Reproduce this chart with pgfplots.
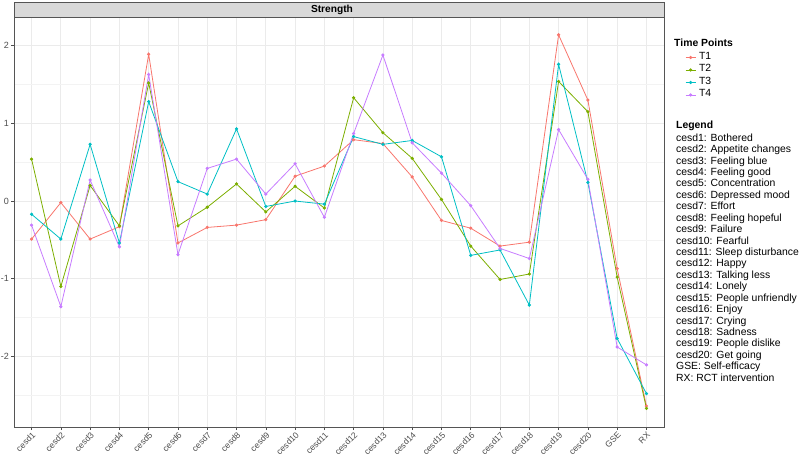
\documentclass[border=0pt]{standalone}
\usepackage{pgfplots}
\pgfplotsset{compat=1.18}
\usepackage{pgfplotstable}
\usepackage{fontspec}
\setmainfont{Liberation Sans}
\definecolor{cA}{HTML}{F8766D}
\definecolor{cB}{HTML}{7CAE00}
\definecolor{cC}{HTML}{00BFC4}
\definecolor{cD}{HTML}{C77CFF}
\definecolor{gridc}{HTML}{EBEBEB}
\definecolor{gridm}{HTML}{F3F3F3}
\definecolor{txtc}{HTML}{4D4D4D}
\definecolor{bordc}{HTML}{555555}
\definecolor{stripc}{HTML}{D9D9D9}

\pgfplotstableread{
x T1 T2 T3 T4
0 -0.49 0.54 -0.17 -0.31
1 -0.02 -1.10 -0.49 -1.36
2 -0.49 0.20 0.73 0.27
3 -0.33 -0.32 -0.54 -0.59
4 1.89 1.52 1.28 1.63
5 -0.54 -0.32 0.25 -0.69
6 -0.34 -0.08 0.09 0.42
7 -0.31 0.22 0.93 0.54
8 -0.24 -0.14 -0.07 0.09
9 0.32 0.19 0.00 0.48
10 0.45 -0.09 -0.04 -0.21
11 0.79 1.33 0.83 0.87
12 0.74 0.88 0.73 1.88
13 0.31 0.55 0.78 0.75
14 -0.25 0.02 0.57 0.36
15 -0.35 -0.58 -0.70 -0.06
16 -0.58 -1.01 -0.63 -0.61
17 -0.53 -0.94 -1.34 -0.74
18 2.14 1.54 1.76 0.92
19 1.30 1.15 0.24 0.28
20 -0.87 -0.98 -1.77 -1.88
21 -2.64 -2.67 -2.48 -2.11
}\datatable

\begin{document}
\begin{tikzpicture}[x=1pt,y=1pt]
\useasboundingbox (0,0) rectangle (800,456);
\begin{axis}[name=ax, at={(14pt,29pt)}, anchor=south west,
  scale only axis, width=650pt, height=410pt,
  xmin=-0.6, xmax=21.6, ymin=-2.91, ymax=2.37,
  xtick={0,...,21},
  xticklabels={cesd1,cesd2,cesd3,cesd4,cesd5,cesd6,cesd7,cesd8,cesd9,cesd10,cesd11,cesd12,cesd13,cesd14,cesd15,cesd16,cesd17,cesd18,cesd19,cesd20,GSE,RX},
  ytick={-2,-1,0,1,2},
  yticklabels={-2,-1,0,1,2},
  minor ytick={-2.5,-1.5,-0.5,0.5,1.5},
  grid=both,
  major grid style={gridc, line width=0.8pt},
  minor grid style={gridm, line width=0.5pt},
  axis line style={bordc, line width=0.7pt},
  xtick pos=bottom, ytick pos=left,
  tick align=outside, major tick length=3pt, minor tick length=0pt,
  tick style={txtc, line width=0.6pt},
  xticklabel style={rotate=45, anchor=north east, font=\fontsize{8.6}{9}\selectfont, text=txtc, inner sep=0.8pt},
  yticklabel style={font=\fontsize{9}{10}\selectfont, text=txtc, inner sep=2pt},
  /pgf/number format/assume math mode=true,
  every axis plot/.append style={line width=0.8pt, mark=*, mark size=1.2pt},
  legend style={at={(1,1)}, anchor=north west, xshift=21pt, yshift=-34pt,
    draw=none, fill=none, font=\fontsize{10.4}{12}\selectfont,
    row sep=0pt, column sep=3pt, inner sep=0pt,
    nodes={inner sep=0pt, text height=8pt, text depth=4.5pt}},
  legend cell align=left,
  legend image code/.code={\draw[mark repeat=2,mark phase=2] plot coordinates {(0pt,0pt)(5pt,0pt)(10pt,0pt)};},
]
\addplot[cA, mark options={fill=cA}] table[x=x, y=T1] {\datatable};
\addlegendentry{T1}
\addplot[cB, mark options={fill=cB}] table[x=x, y=T2] {\datatable};
\addlegendentry{T2}
\addplot[cC, mark options={fill=cC}] table[x=x, y=T3] {\datatable};
\addlegendentry{T3}
\addplot[cD, mark options={fill=cD}] table[x=x, y=T4] {\datatable};
\addlegendentry{T4}
\end{axis}
% facet strip
\draw[fill=stripc, draw=bordc, line width=0.7pt] (ax.north west) rectangle ([yshift=15pt]ax.north east);
\node[font=\bfseries\fontsize{10.2}{12}\selectfont, anchor=base] at (332, 443.2) {Strength};
% legend titles and text
\node[font=\bfseries\fontsize{10.4}{12}\selectfont, anchor=base west, inner sep=0pt] at (674, 409.3) {Time Points};
\node[font=\bfseries\fontsize{10.4}{12}\selectfont, anchor=base west, inner sep=0pt] at (676, 327.3) {Legend};
\foreach \t [count=\i from 0] in {cesd1: Bothered, cesd2: Appetite changes, cesd3: Feeling blue, cesd4: Feeling good, cesd5: Concentration, cesd6: Depressed mood, cesd7: Effort, cesd8: Feeling hopeful, cesd9: Failure, cesd10: Fearful, cesd11: Sleep disturbance, cesd12: Happy, cesd13: Talking less, cesd14: Lonely, cesd15: People unfriendly, cesd16: Enjoy, cesd17: Crying, cesd18: Sadness, cesd19: People dislike, cesd20: Get going, GSE: Self-efficacy, RX: RCT intervention}
  \node[font=\fontsize{10.4}{12}\selectfont, anchor=base west, inner sep=0pt] at (676, 314.8-11.43*\i) {\t};
\end{tikzpicture}
\end{document}
